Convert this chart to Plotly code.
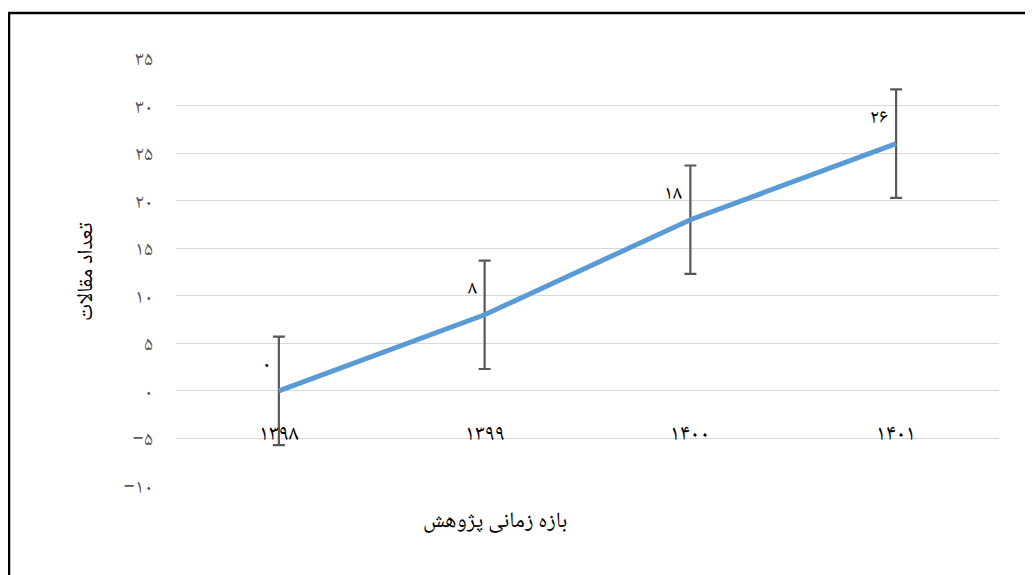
import plotly.graph_objects as go

categories = ["۱۳۹۸", "۱۳۹۹", "۱۴۰۰", "۱۴۰۱"]
values = [0, 8, 18, 26]
value_labels = ["۰", "۸", "۱۸", "۲۶"]
errors = [5.7, 5.7, 5.7, 5.7]
y_tickvals = [35, 30, 25, 20, 15, 10, 5, 0, -5, -10]
y_ticktext = ["۳۵", "۳۰", "۲۵", "۲۰", "۱۵", "۱۰", "۵", "۰", "−۵", "−۱۰"]
x_title = "بازه زمانی پژوهش"
y_title = "تعداد مقالات"

FONT = "Noto Naskh Arabic, Noto Sans Arabic, DejaVu Sans, sans-serif"
xs = list(range(len(categories)))

fig = go.Figure()
fig.add_trace(go.Scatter(
    x=xs, y=values, mode="lines",
    line=dict(color="#5B9BD5", width=5),
    error_y=dict(type="data", array=errors, visible=True,
                 color="#595959", thickness=2.2, width=6),
    hoverinfo="skip", showlegend=False,
))

annotations = []
for x, v, t in zip(xs, values, value_labels):
    annotations.append(dict(x=x, y=v, xref="x", yref="y", text=t,
                            showarrow=False, xanchor="right", yanchor="bottom",
                            xshift=-6, yshift=6,
                            font=dict(family=FONT, size=20, color="#000000")))
for x, c in zip(xs, categories):
    annotations.append(dict(x=x, y=0, xref="x", yref="y", text=c,
                            showarrow=False, xanchor="center", yanchor="middle",
                            yshift=-44,
                            font=dict(family=FONT, size=22, color="#000000")))
annotations.append(dict(x=0.388, y=-0.084, xref="paper", yref="paper", text=x_title,
                        showarrow=False, xanchor="center", yanchor="middle",
                        font=dict(family=FONT, size=22, color="#000000")))
annotations.append(dict(x=-0.108, y=0.5, xref="paper", yref="paper", text=y_title,
                        showarrow=False, xanchor="center", yanchor="middle",
                        textangle=-90,
                        font=dict(family=FONT, size=22, color="#000000")))

fig.update_layout(
    width=1033, height=575,
    margin=dict(l=168, r=42, t=50, b=97),
    paper_bgcolor="#FFFFFF", plot_bgcolor="#FFFFFF",
    annotations=annotations,
    xaxis=dict(range=[-0.5, 3.5], showgrid=False, zeroline=False,
               showticklabels=False, showline=False, ticks=""),
    yaxis=dict(range=[-10, 35], tickvals=y_tickvals, ticktext=y_ticktext,
               showgrid=True, gridcolor="#D9D9D9", gridwidth=1,
               zeroline=False, showline=False, ticks="",
               ticklabelstandoff=22,
               tickfont=dict(family=FONT, size=20, color="#595959")),
    shapes=[dict(type="rect", xref="paper", yref="paper",
                 x0=-0.2029, x1=1.2, y0=-0.5, y1=1.105,
                 line=dict(color="#000000", width=2.5), layer="above")],
)

fig.write_html("out.html")
